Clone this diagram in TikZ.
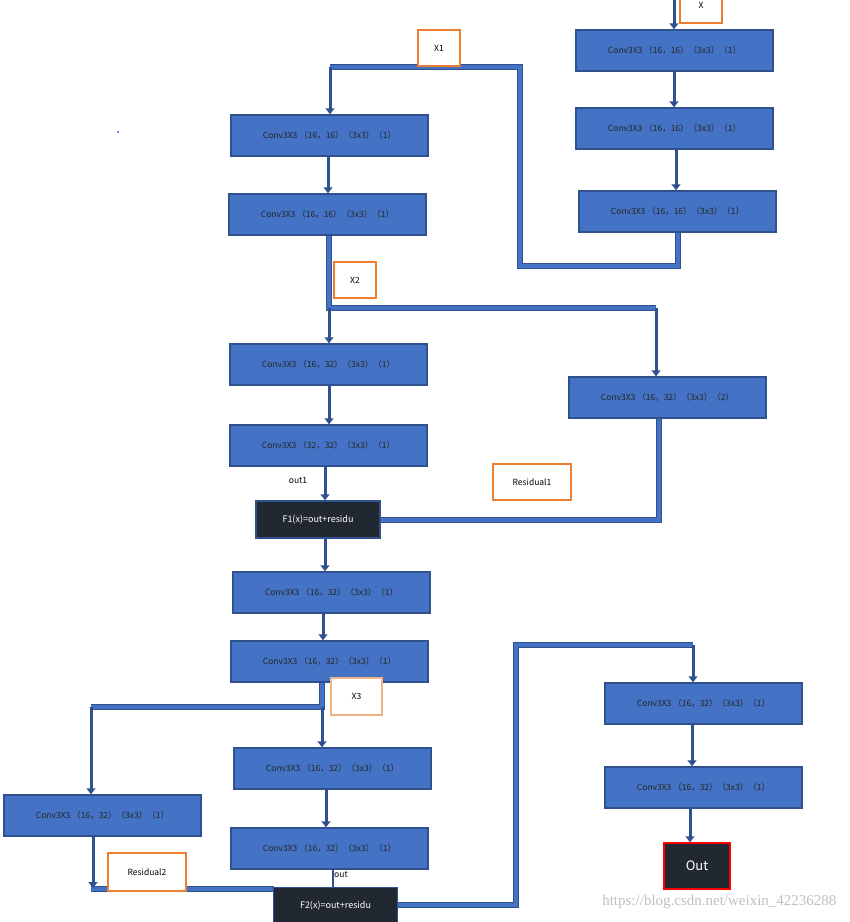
\documentclass[tikz,border=0pt]{standalone}
\usepackage{fontspec}
\setmainfont{Noto Sans CJK SC}
\newfontfamily\wmfont{Liberation Serif}
\usetikzlibrary{arrows.meta,positioning}
\definecolor{boxblue}{RGB}{68,114,196}
\definecolor{edgeblue}{RGB}{47,82,143}
\definecolor{darkbox}{RGB}{34,40,49}
\definecolor{tagorange}{RGB}{237,125,49}
\definecolor{tagpale}{RGB}{244,177,131}

\tikzset{
  conv/.style={draw=edgeblue,line width=1.5pt,fill=boxblue,minimum width=197pt,minimum height=41pt,font=\fontsize{8.5}{10}\selectfont,text=black!85},
  sumbox/.style={draw=edgeblue,line width=1.5pt,fill=darkbox,text=white,minimum width=124pt,minimum height=37pt,font=\fontsize{9}{10}\selectfont},
  tag/.style={draw=tagorange,line width=1.5pt,fill=white,minimum width=42pt,minimum height=36pt,font=\fontsize{8.5}{10}\selectfont},
  pipe/.style={draw=edgeblue,line width=1pt,double=boxblue,double distance=4pt},
  arr/.style={edgeblue,line width=3pt,-{Triangle[width=9pt,length=6pt]}}
}

\begin{document}
\begin{tikzpicture}[x=1pt,y=-1pt]
  \useasboundingbox (0,0) rectangle (850,922);
  % first stage
  \node[conv] (R1) at (674.5,50.5) {Conv3X3 （16，16）（3x3）（1）};
  \node[conv] (R2) at (674.5,128.5) {Conv3X3 （16，16）（3x3）（1）};
  \node[conv] (R3) at (677.5,211.5) {Conv3X3 （16，16）（3x3）（1）};
  \node[conv] (L1) at (329.5,135.5) {Conv3X3 （16，16）（3x3）（1）};
  \node[conv] (L2) at (327.5,214.5) {Conv3X3 （16，16）（3x3）（1）};
  % second stage
  \node[conv] (M1) at (328.5,364.5) {Conv3X3 （16，32）（3x3）（1）};
  \node[conv] (M2) at (328.5,445.5) {Conv3X3 （32，32）（3x3）（1）};
  \node[conv] (S1) at (667.5,397.5) {Conv3X3 （16，32）（3x3）（2）};
  \node[sumbox] (F1) at (318,519.5) {F1(x)=out+residu};
  % third stage
  \node[conv] (C1) at (331.5,592.5) {Conv3X3 （16，32）（3x3）（1）};
  \node[conv] (C2) at (329.5,661.5) {Conv3X3 （16，32）（3x3）（1）};
  \node[conv] (C3) at (332.5,768.5) {Conv3X3 （16，32）（3x3）（1）};
  \node[conv] (C4) at (329.5,848.5) {Conv3X3 （16，32）（3x3）（1）};
  \node[conv] (C5) at (102.5,815.5) {Conv3X3 （16，32）（3x3）（1）};
  \node[conv] (D1) at (703.5,703.5) {Conv3X3 （16，32）（3x3）（1）};
  \node[conv] (D2) at (703.5,787.5) {Conv3X3 （16，32）（3x3）（1）};
  \node[draw=red,line width=1.5pt,fill=darkbox,text=white,minimum width=66pt,minimum height=46pt,font=\fontsize{13}{15}\selectfont] (Out) at (697,866) {Out};

  % pipes
  \draw[pipe] (R3.south) |- (520,266) |- (330,67);
  \draw[pipe] (L2.south -| 329,0) -- (329,308) -- (656,308);
  \draw[pipe] (S1.south -| 659,0) |- (F1.east);
  \draw[pipe] (C2.south -| 322,0) -- (322,707) -- (91,707);
  \draw[pipe] (91,889) -- (274,889);
  \draw[pipe] (397,905) -| (516,645) -- (693,645);
  \draw[edgeblue,line width=2pt] (C4.south -| 333,0) -- (333,888);
  \node[sumbox] (F2) at (335.5,906) {F2(x)=out+residu};

  % arrows
  \draw[arr] (674,0) -- (R1.north -| 674,0);
  \draw[arr] (R1.south -| 674,0) -- (R2.north -| 674,0);
  \draw[arr] (R2.south -| 676,0) -- (R3.north -| 676,0);
  \draw[arr] (330,67) -- (L1.north -| 330,0);
  \draw[arr] (L1.south -| 328,0) -- (L2.north -| 328,0);
  \draw[arr] (329,308) -- (M1.north -| 329,0);
  \draw[arr] (656,308) -- (S1.north -| 656,0);
  \draw[arr] (M1.south -| 329,0) -- (M2.north -| 329,0);
  \draw[arr] (M2.south -| 325,0) -- (F1.north -| 325,0);
  \draw[arr] (F1.south -| 325,0) -- (C1.north -| 325,0);
  \draw[arr] (C1.south -| 323,0) -- (C2.north -| 323,0);
  \draw[arr] (322,707) -- (C3.north -| 322,0);
  \draw[arr] (91,707) -- (C5.north -| 91,0);
  \draw[arr] (C3.south -| 326,0) -- (C4.north -| 326,0);
  \draw[arr] (C5.south -| 93,0) -- (93,888);
  \draw[arr] (693,645) -- (D1.north -| 693,0);
  \draw[arr] (D1.south -| 692,0) -- (D2.north -| 692,0);
  \draw[arr] (D2.south -| 690,0) -- (Out.north -| 690,0);

  % tags
  \node[tag] (tX) at (701,5) {X};
  \node[tag] (tX1) at (439,48) {X1};
  \node[tag] (tX2) at (355,280) {X2};
  \node[tag,minimum width=78pt] (tR1) at (532,482) {Residual1};
  \node[tag,draw=tagpale,minimum width=51pt,minimum height=37pt] (tX3) at (356.5,696.5) {X3};
  \node[tag,minimum width=78pt,minimum height=38pt] (tR2) at (147,872) {Residual2};
  \node[font=\fontsize{8.5}{10}\selectfont] (o1) at (298,481) {out1};
  \node[font=\fontsize{8.5}{10}\selectfont] (o2) at (341,875) {out};
  \fill[blue] (118,132) circle (0.8);
  \node[text=black!25,font=\wmfont\fontsize{15}{16}\selectfont,anchor=east] (wm) at (840,902) {https://blog.csdn.net/weixin\_42236288};
\end{tikzpicture}
\end{document}
